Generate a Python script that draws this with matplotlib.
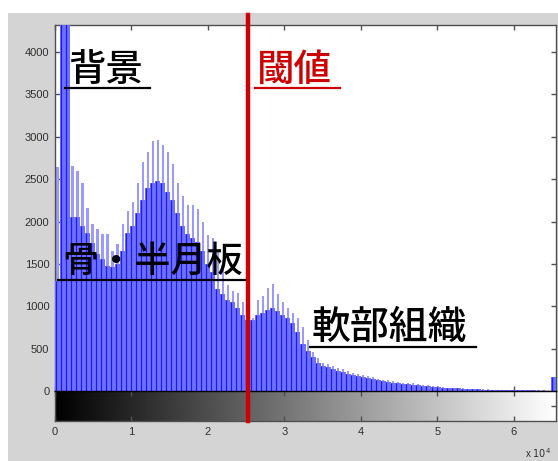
import numpy as np
import matplotlib
matplotlib.use("Agg")
import matplotlib.pyplot as plt
from matplotlib.lines import Line2D
from matplotlib.patches import Rectangle
from matplotlib.transforms import blended_transform_factory

W, H = 558, 461

# Histogram of 16-bit intensities, 100 bins over 0..65535
bin_width = 65536 / 100
upper_counts = [2640, 6000, 6000, 2650, 2600, 2450, 2165, 1975, 1915, 1850,
                1855, 1650, 1740, 1975, 2130, 2225, 2450, 2700, 2820, 2950,
                2960, 2900, 2820, 2680, 2450, 2300, 2200, 2190, 2150, 1990,
                1840, 1800, 1650, 1450, 1250, 1180, 1160, 1050, 870, 860,
                1080, 1120, 1220, 1260, 1150, 1050, 980, 920, 860, 760,
                600, 460, 390, 335, 320, 295, 275, 260, 240, 215,
                200, 190, 175, 160, 145, 135, 125, 115, 110, 100,
                95, 90, 80, 75, 65, 60, 55, 45, 40, 38,
                35, 30, 28, 25, 22, 20, 18, 16, 14, 12,
                10, 10, 9, 8, 8, 7, 6, 6, 5, 160]
lower_counts = [1300, 6000, 6000, 2050, 2050, 1950, 1860, 1750, 1620, 1560,
                1480, 1460, 1500, 1650, 1860, 1950, 2100, 2250, 2400, 2460,
                2480, 2450, 2350, 2250, 2100, 1950, 1850, 1800, 1760, 1650,
                1500, 1400, 1200, 1150, 1080, 1050, 980, 900, 840, 840,
                900, 920, 960, 980, 950, 900, 860, 800, 700, 560,
                470, 400, 330, 300, 280, 260, 240, 225, 205, 190,
                175, 165, 150, 140, 125, 115, 105, 100, 95, 85,
                80, 75, 70, 62, 55, 50, 45, 40, 35, 32,
                30, 26, 24, 21, 19, 17, 15, 13, 12, 10,
                9, 8, 8, 7, 7, 6, 5, 5, 4, 160]
threshold = 25200

y_ticks = [0, 500, 1000, 1500, 2000, 2500, 3000, 3500, 4000]
x_ticks = [0, 10000, 20000, 30000, 40000, 50000, 60000]
x_ticklabels = ["0", "1", "2", "3", "4", "5", "6"]

labels = ["背景", "閾値", "骨・半月板", "軟部組織"]
label_colors = ["black", "#cc0000", "black", "black"]

cjk = ["Noto Sans CJK JP", "DejaVu Sans"]
tick_font = "Liberation Sans"

fig = plt.figure(figsize=(W / 100, H / 100), dpi=100, facecolor="white")


def fx(px):
    return px / W


def fy(py):
    return 1 - py / H


# grey window panel
fig.add_artist(Rectangle((fx(8), 0), 1 - fx(8), fy(13), transform=fig.transFigure,
                         facecolor="#d4d4d4", edgecolor="none", zorder=0))

spine_col = "#505050"

# main histogram axes
ax = fig.add_axes([fx(55), fy(391), fx(556) - fx(55), fy(25) - fy(391)])
ax.set_facecolor("white")
edges = np.arange(len(upper_counts)) * bin_width
ax.bar(edges + bin_width / 2, upper_counts, width=bin_width * 0.45,
       color="#9a9aff", edgecolor="none", zorder=2)
ax.bar(edges + bin_width / 2, lower_counts, width=bin_width,
       color="#7070ff", edgecolor="none", zorder=3)
ax.vlines(edges + bin_width * 0.15, 0, lower_counts, color="#1a1aff",
          linewidth=0.9, zorder=4)
ax.set_xlim(0, 65536)
ax.set_ylim(0, 4320)
ax.set_yticks(y_ticks)
ax.set_yticklabels([str(v) for v in y_ticks], fontfamily=tick_font,
                   fontsize=8, color="#303030")
ax.set_xticks(x_ticks)
ax.set_xticklabels([])
ax.tick_params(direction="in", length=3.5, width=1, color=spine_col,
               top=True, right=True, pad=4)
for s in ax.spines.values():
    s.set_color(spine_col)
    s.set_linewidth(1.0)
ax.spines["bottom"].set_color("black")

# grey-level strip under the histogram
cax = fig.add_axes([fx(55), fy(421), fx(556) - fx(55), fy(391) - fy(421)])
grad = np.linspace(0, 1, 512).reshape(1, -1)
cax.imshow(grad, cmap="gray", aspect="auto", extent=[0, 65536, 0, 1],
           interpolation="bilinear")
cax.set_xlim(0, 65536)
cax.set_ylim(0, 1)
cax.set_xticks(x_ticks)
cax.set_xticklabels(x_ticklabels, fontfamily=tick_font, fontsize=8,
                    color="#303030")
cax.set_yticks([0.5])
cax.set_yticklabels([])
cax.tick_params(direction="in", length=3.5, width=1, color=spine_col,
                top=True, right=True, left=False, pad=4)
for s in cax.spines.values():
    s.set_color(spine_col)
    s.set_linewidth(1.0)
cax.spines["top"].set_color("black")
fig.text(fx(525), fy(453), r"x $10^{4}$", fontfamily=tick_font, fontsize=7,
         color="#303030", va="center", ha="left")

# threshold line across both panels
tr = blended_transform_factory(ax.transData, fig.transFigure)
fig.add_artist(Line2D([threshold, threshold], [fy(421), fy(15)], transform=tr,
                      color="#cc0000", linewidth=3.2, zorder=10))

# annotations with underlines
ann = [
    (labels[0], 68, 70, 65, 150, 88, 27),
    (labels[1], 257, 70, 255, 340, 88, 27),
    (labels[2], 62, 262, 58, 245, 280, 26),
    (labels[3], 312, 328, 310, 476, 347, 28),
]
for (txt, x0, yc, u0, u1, uy, fs), col in zip(ann, label_colors):
    fig.text(fx(x0), fy(yc), txt, fontfamily=cjk, fontsize=fs, color=col,
             fontweight="medium", va="center", ha="left", zorder=12)
    fig.add_artist(Line2D([fx(u0), fx(u1)], [fy(uy), fy(uy)],
                          transform=fig.transFigure, color=col,
                          linewidth=1.6, zorder=12))

fig.savefig("out.png", dpi=100, facecolor="white")
